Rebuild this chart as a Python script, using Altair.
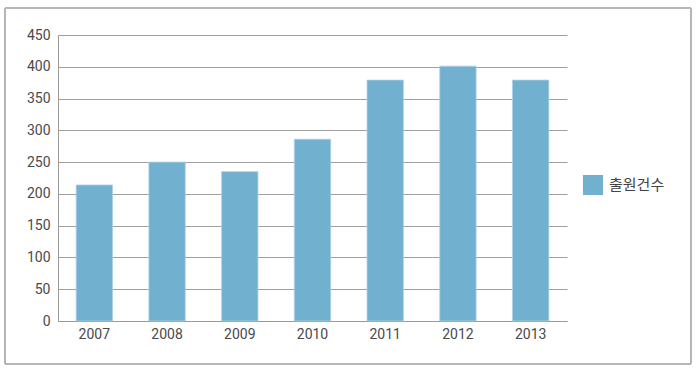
import altair as alt
import pandas as pd

years = ["2007", "2008", "2009", "2010", "2011", "2012", "2013"]
counts = [214, 250, 235, 286, 379, 401, 379]
series_name = "출원건수"

df = pd.DataFrame({"year": years, "count": counts, "series": [series_name] * len(years)})

bars = alt.Chart(df).mark_bar(color="#72B0D0", stroke="#A9D0E4", strokeWidth=0.8).encode(
    x=alt.X("year:N", sort=years, title=None,
            scale=alt.Scale(paddingInner=0.5, paddingOuter=0.25),
            axis=alt.Axis(labelAngle=0, ticks=False, labelPadding=6, domainColor="#9a9a9a",
                          labelFont="Roboto", labelFontSize=14, labelColor="#4a4a4a")),
    y=alt.Y("count:Q", title=None,
            scale=alt.Scale(domain=[0, 450], nice=False),
            axis=alt.Axis(values=list(range(0, 451, 50)), ticks=False, labelPadding=8,
                          grid=True, gridColor="#a0a0a0", domainColor="#9a9a9a",
                          labelFont="Roboto", labelFontSize=14, labelColor="#4a4a4a")),
    fill=alt.Fill("series:N", scale=alt.Scale(range=["#72B0D0"]),
                  legend=alt.Legend(title=None, orient="none", legendX=525, legendY=140,
                                    symbolType="square", symbolSize=400, symbolStrokeWidth=0,
                                    labelFont="Noto Sans CJK KR", labelFontSize=15,
                                    labelColor="#444444", labelOffset=6, padding=0)),
)

frame = alt.Chart(df).mark_rect(fill=None, stroke="#b5b5b5", strokeWidth=1).encode(
    x=alt.value(-53), x2=alt.value(633), y=alt.value(-27), y2=alt.value(329)
)

chart = alt.layer(frame, bars).properties(
    width=509, height=286,
    autosize=alt.AutoSizeParams(type="none"),
    padding={"left": 58, "top": 35, "right": 133, "bottom": 51},
    background="white",
).configure_view(stroke=None)

chart.save("out.html", embed_options={"renderer": "svg", "actions": False})
